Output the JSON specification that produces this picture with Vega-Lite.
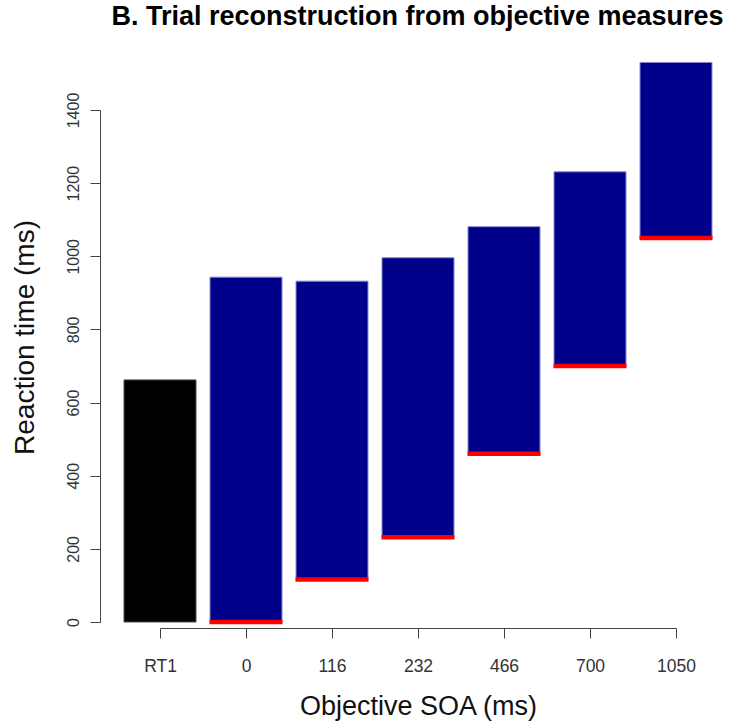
{
  "$schema": "https://vega.github.io/schema/vega-lite/v6.json",
  "autosize": {"type": "none"},
  "padding": {"left": 100, "top": 110, "right": 0, "bottom": 100},
  "width": 635,
  "height": 512,
  "background": "white",
  "title": {
    "text": "B. Trial reconstruction from objective measures",
    "anchor": "middle",
    "frame": "group",
    "font": "Liberation Sans",
    "fontSize": 27,
    "fontWeight": "bold",
    "color": "#000000",
    "baseline": "alphabetic",
    "offset": 10
  },
  "data": {
    "values": [
      {"soa": "RT1", "group": "RT1", "start": 0, "end": 662},
      {"soa": "0", "group": "SOA", "start": 0, "end": 943},
      {"soa": "116", "group": "SOA", "start": 116, "end": 932},
      {"soa": "232", "group": "SOA", "start": 232, "end": 996},
      {"soa": "466", "group": "SOA", "start": 460, "end": 1081},
      {"soa": "700", "group": "SOA", "start": 700, "end": 1231},
      {"soa": "1050", "group": "SOA", "start": 1050, "end": 1530}
    ]
  },
  "encoding": {
    "x": {
      "field": "soa",
      "type": "nominal",
      "sort": null,
      "scale": {
        "type": "point",
        "domain": ["RT1", "0", "116", "232", "466", "700", "1050"],
        "range": [60, 576],
        "padding": 0
      },
      "axis": {
        "title": "Objective SOA (ms)",
        "orient": "bottom",
        "offset": 6,
        "labelAngle": 0,
        "labelFont": "Liberation Sans",
        "labelFontSize": 17.5,
        "labelColor": "#333333",
        "labelBaseline": "alphabetic",
        "labelPadding": 33,
        "tickSize": 10,
        "tickColor": "#444444",
        "domainColor": "#444444",
        "titleFont": "Liberation Sans",
        "titleFontSize": 27,
        "titleFontWeight": "normal",
        "titleColor": "#111111",
        "titleBaseline": "alphabetic",
        "titleY": 86
      }
    }
  },
  "layer": [
    {
      "mark": {"type": "bar", "size": 72, "strokeWidth": 1},
      "encoding": {
        "y": {
          "field": "start",
          "type": "quantitative",
          "scale": {"domain": [0, 1400], "nice": false, "zero": false},
          "axis": {
            "title": "Reaction time (ms)",
            "values": [0, 200, 400, 600, 800, 1000, 1200, 1400],
            "format": "d",
            "labelAngle": 270,
            "labelAlign": "center",
            "labelBaseline": "alphabetic",
            "labelFont": "Liberation Sans",
            "labelFontSize": 16,
            "labelColor": "#333333",
            "labelPadding": 12,
            "tickSize": 10,
            "tickColor": "#444444",
            "domainColor": "#444444",
            "titleFont": "Liberation Sans",
            "titleFontSize": 28,
            "titleFontWeight": "normal",
            "titleColor": "#111111",
            "titleAngle": 270,
            "titleBaseline": "alphabetic",
            "titleX": -67,
            "titleY": 227
          }
        },
        "y2": {"field": "end"},
        "fill": {
          "field": "group",
          "type": "nominal",
          "scale": {"domain": ["RT1", "SOA"], "range": ["#000000", "#00008B"]},
          "legend": null
        },
        "stroke": {
          "field": "group",
          "type": "nominal",
          "scale": {"domain": ["RT1", "SOA"], "range": ["#4a4a4a", "#8a8ad2"]},
          "legend": null
        }
      }
    },
    {
      "transform": [{"filter": "datum.group === 'SOA'"}],
      "mark": {"type": "tick", "size": 73, "thickness": 4.5, "color": "#FF0000", "opacity": 1},
      "encoding": {
        "y": {"field": "start", "type": "quantitative"}
      }
    }
  ],
  "config": {
    "view": {"stroke": null},
    "axis": {"grid": false}
  }
}
